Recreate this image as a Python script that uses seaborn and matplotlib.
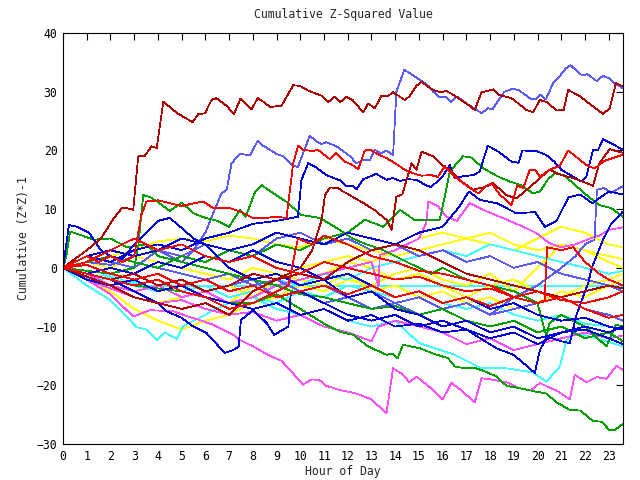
import matplotlib
matplotlib.use("Agg")
import matplotlib.pyplot as plt
import seaborn as sns

# ---------------- data (hour, cumulative value) ----------------
hours = [0, 1, 2, 3, 4, 5, 6, 7, 8, 9, 10, 11, 12, 13, 14, 15, 16, 17, 18, 19, 20, 21, 22, 23, 23.6]

line_a = [(0,0),(0.5,1.5),(1,3),(1.6,5),(2.1,8.2),(2.5,10.3),(2.96,9.9),(3.17,19),(3.45,19.1),(3.73,20.7),(3.95,20.4),
          (4.23,28.3),(4.79,26.4),(5.46,24.8),(5.7,26.2),(5.98,26.3),(6.26,28.6),(6.46,28.9),(6.9,27.6),(7.2,26.2),
          (7.48,28.8),(7.95,27),(8.2,28.9),(8.44,28.3),(8.72,27.4),(9.21,27.6),(9.7,31.1),(9.98,31),(10.33,30.2),
          (10.9,29.3),(11.17,28.2),(11.46,29.2),(11.67,28.2),(11.95,29.1),(12.2,28.6),(12.65,26.5),(12.86,28),
          (13.14,27.2),(13.42,29.3),(13.7,29.3),(13.91,29.9),(14.4,28.6),(14.6,29.2),(14.9,31),(15.1,31.7),(15.5,30.5),
          (15.88,29.9),(16.16,30.1),(16.44,29.5),(17.07,27.8),(17.35,26.9),(17.64,29.9),(18.13,30.4),(18.34,29.5),
          (18.9,28.9),(19.53,26.9),(19.81,26.5),(20.1,28.6),(20.4,28.2),(20.8,26.8),(21.1,26.9),(21.29,30.3),
          (21.8,29.2),(22.3,27.6),(22.76,26.2),(23.04,27.2),(23.3,31.5),(23.6,30.9)]

line_b = [(0,0),(1,1),(2,0.5),(3,2),(4,3),(5,1),(5.5,3),(6,6),(6.33,9.3),(6.68,12.7),(6.9,13.3),(7.1,17.8),(7.45,19.4),
          (7.88,19.2),(8.2,21.6),(8.44,20.8),(9.0,19.4),(9.3,19),(9.7,17.4),(9.9,17.2),(10.4,22.5),(10.69,21.5),
          (10.9,21.1),(11.1,21.4),(11.53,20.7),(12.1,19),(12.37,17.8),(12.65,18.4),(12.94,18.4),(13.14,20.1),
          (13.4,19.5),(13.63,20),(13.91,19.2),(14.05,30),(14.38,33.7),(14.6,33.2),(15.05,32),(15.4,31),(15.6,30),
          (15.9,29),(16.1,29.2),(16.35,28.2),(16.6,29.2),(17.0,28),(17.4,27),(17.65,26.3),(17.9,27.2),(18.1,27),
          (18.6,30),(18.95,30.5),(19.2,30.3),(19.7,28.8),(19.9,28.7),(20.1,29.5),(20.35,28.7),(20.66,31.5),
          (20.9,32.5),(21.2,34),(21.4,34.5),(21.6,33.7),(21.87,32.8),(22.1,33),(22.5,31.8),(22.75,32.7),(23.0,32.3),
          (23.2,31.5),(23.6,30.6)]

line_c = [(0,0),(1,-1),(2,-2),(3,-3),(4,-3.5),(5,-4),(6,-5),(7,-6),(8,-6),(9,-4.5),(10,-7),(11,-9.5),(11.67,-10.9),
          (12.23,-11.4),(12.86,-13.4),(13.63,-14.8),(13.9,-14.6),(14.1,-15.4),(14.33,-13.1),(15.04,-13.7),
          (15.53,-14.5),(16.23,-15.4),(16.51,-16.8),(16.93,-17.1),(17.4,-17.1),(17.7,-17.5),(18.27,-18.5),
          (18.69,-20.1),(19.25,-20.5),(19.95,-21.1),(20.37,-21.4),(20.8,-22.9),(21.36,-24.2),(21.8,-24.3),
          (22.34,-26.1),(22.7,-26.2),(23.04,-27.7),(23.25,-27.6),(23.6,-26.6)]

line_d = [(0,0),(1,-2),(2,-4.5),(2.96,-8.3),(3.66,-7.2),(4.65,-7.4),(5.28,-8.3),(5.77,-8.9),(6.33,-9.7),(7.17,-11.4),
          (7.46,-12.3),(8.02,-13.4),(8.72,-15),(9.2,-15.8),(9.7,-18),(10.12,-19.9),(10.47,-19),(10.8,-19.1),
          (11.1,-20.1),(11.67,-20.8),(12.37,-21.4),(13.0,-22.4),(13.63,-24.8),(13.91,-17.1),(14.33,-18.2),
          (14.6,-19.5),(14.9,-18.5),(15.32,-19.9),(15.6,-20.8),(16.0,-22.4),(16.37,-19.6),(16.7,-20.6),
          (17.35,-22.9),(17.64,-18.8),(18.2,-19.1),(18.7,-19.5),(19.25,-20.5),(19.7,-20.9),(20.1,-19.6),
          (20.4,-20.2),(20.8,-20.9),(21.36,-22.4),(21.57,-18.2),(22.06,-19.5),(22.5,-18.6),(22.9,-18.9),
          (23.32,-16.7),(23.6,-17.4)]

line_e = [(0,0),(0.5,-1),(1,-0.5),(1.5,-2),(2,-1.5),(2.5,-2.5),(3,-2.5),(3.5,-3.1),(4,-3.1),(6,-3.1),(8,-3.1),
          (10,-3.1),(12,-3.1),(14,-3.1),(16,-3.1),(18,-3.1),(20,-3.1),(22,-3.1),(23.6,-3.1)]

line_f = [(0,0),(1,2),(2,1),(3,3),(4,4),(5,3),(6,5),(7,6),(8,7.5),(9,8),(9.9,8.7),(10.05,15),(10.33,17.8),(10.6,17.3),
          (11.1,15.8),(11.67,14.9),(11.95,13.9),(12.2,14),(12.37,13.4),(12.65,15.1),(13.2,16),(13.63,15),(13.9,15.3),
          (14.2,14.8),(14.5,15.1),(14.9,15),(15.32,14),(15.5,13.8),(15.75,14.6),(16.0,15.6),(16.3,17.5),(16.5,15.3),
          (16.86,15.6),(17.3,15.8),(17.56,16.4),(17.9,20.8),(18.34,19.8),(18.9,18.1),(19.2,17.9),(19.36,20),
          (19.7,19.9),(19.95,19.9),(20.37,19.2),(20.7,18.1),(21.0,16.7),(21.43,15.7),(21.85,14.7),(22.06,15.6),
          (22.34,20.1),(22.55,20.1),(22.76,21.9),(23.2,21),(23.6,20.1)]

line_g = [(0,0),(0.5,1),(1,2),(1.5,1),(2,2),(2.5,1),(3.0,2),(3.3,9),(3.52,11.3),(4.0,11.5),(4.5,11),(5.0,10.5),
          (5.5,11),(5.9,11.3),(6.33,10.2),(7.0,10.2),(7.46,9.6),(8.0,8.5),(8.5,8.5),(9.0,8.7),(9.42,8.5),(9.7,17.8),
          (9.91,20.8),(10.12,20.1),(10.5,19.9),(10.75,20.1),(11.25,18.5),(11.5,19.6),(11.88,18.1),(12.2,17.5),
          (12.44,16.8),(12.72,20),(12.95,20.1),(13.3,19.3),(13.63,18.7),(14.12,17.5),(14.4,16.7),(14.76,16.1),
          (15.1,15.7),(15.5,15.8),(15.8,15.5),(16.09,17.3),(16.3,16.4),(16.58,15.3),(17.14,13.6),(17.5,12.7),
          (17.8,13.9),(18.06,14.4),(18.4,12.5),(18.9,10.7),(19.14,14),(19.4,13.6),(19.67,16.7),(19.9,16.7),
          (20.1,15.5),(20.5,16.7),(20.94,17.4),(21.29,20),(22.06,17.5),(22.4,16.9),(22.8,18.2),(23.18,18.7),(23.6,19.3)]

line_h = [(0,0),(1,-1),(2,-2),(3,-1),(4,-3),(5,-2),(6,-4),(7,-3),(8,-1),(9,-2),(10,0),(10.5,3),(10.9,8.2),(11.04,12.4),
          (11.25,13.7),(11.6,13.6),(11.8,13),(11.95,12.7),(12.37,11.7),(12.72,10.9),(13.14,9.8),(13.63,8.2),
          (13.85,6.5),(14.05,12.1),(14.3,12.5),(14.48,15),(14.69,17.8),(14.9,16.7),(15.11,19.8),(15.6,19),
          (16.02,17.3),(16.3,16.8),(16.7,15),(17.28,13.3),(17.8,13.8),(18.13,14.4),(18.69,12.4),(19.1,11.8),
          (19.6,13.5),(20.5,16.7),(21.0,15.8),(21.5,15.3),(21.9,14.7),(22.34,14),(22.6,17.8),(23.04,20.2),(23.6,19.6)]

line_i = [(0,0),(1,-0.5),(2,-1),(3,0),(3.17,3.6),(3.38,12.4),(3.7,12),(4.0,11.2),(4.5,9.7),(4.75,10.4),(5.0,11.1),
          (5.25,10.2),(5.5,9.3),(6,8.5),(6.5,8),(7,7),(7.46,9.9),(7.7,8.7),(8.1,13),(8.37,14.1),(8.86,12.7),
          (9.4,11.3),(10.05,9),(10.83,8.5),(11.53,6.8),(12.2,5),(12.8,4),(13.5,3),(14,2),(14.5,1),(15,0),(15.5,-1),
          (16,0),(17,-2),(18,-3),(19,-4),(20,-6),(20.37,-11.7),(20.5,-9.4),(21,-8),(22,-10),(22.9,-13.4),
          (23.3,-9.7),(23.6,-10)]

line_j = [(0,0),(0.15,2.2),(0.3,6.2),(1.3,4.8),(2,5),(2.7,3.5),(3.5,4),(4,2),(5,1),(6,0),(7,-1),(8,-2),(9,-3),
          (10,-4.5),(11,-5),(12,-6),(13,-7),(14,-6.5),(15,-8),(16,-7),(17,-9),(18,-10),(19,-9),(20,-11),(21,-10),
          (22,-12),(23,-11),(23.6,-12.5)]

line_k = [(0,0),(1,1),(2,2),(3,1),(4,0),(5,2),(6,1),(7,3),(8,2),(9,4),(10,3),(11,5),(12,6),(12.72,8.2),(13.5,7),
          (14.2,9.9),(14.8,8.2),(15.88,8.2),(16.1,12.4),(16.3,16.4),(16.86,19),(17.2,18.8),(17.7,17),(18.3,15.6),
          (18.83,14.7),(19.3,14.1),(19.8,12.7),(20.1,13),(20.44,15.1),(20.72,16.1),(21.1,15.8),(21.5,14.4),
          (22.06,12.4),(22.6,10.7),(23.1,10.2),(23.6,8.7)]

line_l = [(0,0),(1,-1),(2,-2),(3,-1),(4,-3),(5,-2),(6,-4),(7,-3),(8,-2),(9,-5),(10,-4),(11,-6),(12,-5),(13,-7),
          (14,-6),(15,-8),(16,-7),(17,-6),(18,-8),(19,-5),(20,-3),(21,0),(21.6,2),(22.0,4),(22.4,4.8),(22.5,13.3),
          (22.8,13.6),(23.1,12.8),(23.6,13.9)]

line_m = [(0,0),(1,2),(2,3),(3,2),(4,3),(5,5),(6,4),(7,3),(8,4),(9,6),(10,5),(11,4),(12,6),(13,5),(14,4),(15,6),
          (16,7),(16.7,10.4),(17.1,13),(17.56,11.6),(18.3,11),(19.1,9.3),(19.9,9.5),(20.3,7),(20.8,8),(21.3,12),
          (21.8,12.5),(22.3,11),(23,13),(23.6,12.5)]

line_m0 = [(0,0),(0.25,7.3),(0.6,7),(1.1,6),(1.6,3),(2,2),(2.5,1.5),(3,4),(3.5,6),(4,8),(4.5,8.5),(5,6.8),(5.5,5),
           (6,4),(6.5,2),(7,0),(8,-2),(9,-1),(10,-3),(11,-2),(12,-5),(13,-4),(14,-7),(15,-8),(16,-10),(17,-9),
           (18,-11),(19,-10),(20,-12),(21,-11),(22,-10.5),(23,-12),(23.6,-13)]

line_n = [(0,0),(1,-1),(2,-3),(3,-4),(4,-3),(5,-5),(6,-4),(7,-6),(8,-5),(9,-3),(10,-2),(11,-1),(12,0),(13,1),
          (13.3,-3.2),(13.35,2.2),(14,3),(15,5),(15.3,7.6),(15.4,11.3),(15.8,10.5),(16.16,8.7),(16.6,8),(17.14,11),
          (17.7,9.9),(18.7,8.2),(19.4,7),(19.95,5.9),(20.5,4.2),(21,3.5),(21.6,4),(22.2,5),(22.6,5.5),(23.04,6.5),
          (23.6,6.9)]

line_n2 = [(0,0),(1,-2),(2,-3.5),(3,-5),(4,-6),(5,-5.5),(6,-7),(7,-8),(8,-7.5),(9,-9),(10,-8),(11,-10),(12,-11),
           (13,-12.5),(13.3,-10),(14,-9),(15,-10),(16,-11),(17,-13),(18,-12),(19,-14),(20,-13),(21,-12),(22,-11),
           (23,-12),(23.6,-11.5)]

line_p = [(0,0),(1,-1),(2,-2),(3,-4),(4,-6),(4.37,-7.4),(5,-8.5),(5.49,-10),(6.05,-11.1),(6.82,-14.5),(7.17,-14),
          (7.4,-13.4),(7.5,-8.9),(8.02,-7.2),(8.58,-9.4),(8.9,-11.4),(9.5,-10),(9.6,-4.3),(10,-4),(11,-6),(12,-8),
          (13,-9),(14,-8),(15,-10),(16,-9),(17,-10.5),(18,-12),(19,-11),(20,-13),(21,-11),(22,-10),(23,-11),(23.6,-10)]

line_q = [(0,0),(1,-2),(2,-3),(3,-2),(4,-4),(5,-3),(6,-5),(7,-6),(8,-7),(9,-6),(10,-8),(11,-7),(12,-9),(13,-8),
          (14,-10),(15,-9.5),(16,-11),(17,-10.5),(17.7,-12.3),(18.27,-13.7),(18.97,-14.8),(19.4,-16.2),(19.88,-17.9),
          (20.1,-14),(20.4,-11.7),(21.0,-12.5),(21.36,-12.8),(21.64,-8),(22.13,-2.6),(22.3,0.2),(22.76,4.8),
          (23.1,7.5),(23.6,9.6)]

line_r2 = [(0,0),(1,1),(2,3),(3,5),(3.5,4),(4,3),(5,4),(6,2),(7,1),(8,2),(9,0),(10,-1),(11,1),(12,0),(13,-1),
           (14,-2),(15,-1.5),(16,-3),(17,-4),(18,-3.5),(19,-5),(20,-4),(21,-5.5),(22,-6),(23,-5),(23.6,-4)]

line_r3 = [(0,0),(1,0.5),(2,-1),(3,-2),(4,-1),(5,-3),(6,-2),(7,-4),(8,-3),(9,-5),(10,-4),(11,-3),(12,-4.5),(13,-3),
           (14,-5),(15,-4),(16,-6),(17,-5),(18,-6.5),(19,-5),(20,-6),(20.3,-5.5),(20.4,3.5),(21,3),(21.5,3.5),
           (22,1),(22.6,-1),(23,-2),(23.6,-3)]

line_r4 = [(0,0),(1,-1),(2,-2),(3,-3),(4,-2),(5,-4),(6,-5),(7,-7),(8,-6),(9,-4),(9.5,-3),(9.9,5),(10.5,4),(11,5.5),
           (12,4),(13,2),(14,1),(15,-0.5),(16,-1),(17,-2),(18,-3),(19,-5),(20,-6),(21,-5),(22,-7),(23,-8.5),(23.6,-8)]

# hourly bundle series (values at `hours`)
dkred_r5 = [0, -1.5, -3, -5, -6, -7, -6, -8, -4, -2, -1, -2, 1, 3, 4, 3, 1, -1, -2, -3, -4, -5, -4, -3, -3.5]
ltblue_b2 = [0, 1, 2, 1, 0, -1, -2, -1, -3, -2, -4, -3, -5, -4, -6, -5, -7, -6, -8, -7, -6, -5, -7, -8, -9]
ltblue_b3 = [0, 2, 1, 0, 3, 2, 4, 3, 2, 5, 6, 4, 5, 3, 4, 2, 3, 1, 2, 0, 1, -1, -2, -3, -4]
blue_b4 = [0, -1, 0, -1, 1, 0, 2, 1, 3, 1, 0, -2, -1, -3, -5, -4, -6, -5, -7, -6, -8, -9, -8.5, -10, -10.5]
cyan_c2 = [0, -1, -2, -3, -2, -4, -3, -5, -4, -2, -3, -1, -2, 0, 1, 2, 3, 2, 4, 3, 2, 1, 0, -1, -0.5]
yellow_y1 = [0, 1, 2, 3, 4.5, 5, 4.5, 5.5, 5, 4, 3.5, 5, 4, 3, 2, 3, 4, 5, 4, 3, 5, 7, 6, 4, 3.5]
yellow_y2 = [0, -1, -2, -4, -3, -5, -4, -6, -3, -2, 0, 1, 2, 1, 3, 5, 6, 5, 6, 4, 3, 4, 3, 2, 1.5]
yellow_y3 = [0, -2, -4, -7, -9, -10.5, -9, -8, -6, -5, -3, -4, -2, -3, -1, 0, -2, -3, -1, -4, 0, 4, 3, 1, 0]
yellow_y4 = [0, 1, 0, 2, 1, 0, -1, -2, 0, -1, -2, -3, -1, -4, -3, -5, -4, -6, -5, -7, -6, -4, -5, -3, -2]
yellow_y5 = [0, -1, -3, -5, -6, -5, -4, -3, -5, -2, -3, -1, 1, 0, -2, -1, -3, -5, -3, -2, -4, -5, -3, -2, -1]

line_c1 = [(0,0),(1,-3),(2,-5.5),(3.1,-10.1),(3.5,-10.5),(3.95,-12.3),(4.3,-11),(4.79,-12.1),(5.07,-9.9),(5.5,-9),
           (6,-8),(6.33,-7.2),(7,-6),(8,-5),(9,-6),(10,-4),(11,-5),(12,-3),(13,-4),(14,-5),(15,-4),(16,-6),(17,-7),
           (18,-6),(19,-8),(20,-9),(21,-8),(22,-9.5),(23,-10),(23.6,-10.5)]
line_c3 = [(0,0),(1,-2),(2,-1),(3,-3),(4,-4),(5,-3),(6,-5),(7,-6),(8,-5),(9,-7),(10,-8),(11,-7),(12,-9),(13,-10),
           (14,-9),(15,-12.8),(16.5,-14.8),(17.64,-17.1),(18.5,-17),(19.8,-17.8),(20.37,-19.4),(20.94,-16.8),
           (21.2,-12.5),(21.5,-11.1),(22,-11.5),(22.76,-12.3),(23.6,-13.4)]

title = "Cumulative Z-Squared Value"
x_label = "Hour of Day"
y_label = "Cumulative (Z*Z)-1"

# ---------------- styling ----------------
RED, DKRED, GREEN, BLUE = "#ff0000", "#b00000", "#00a000", "#0000e0"
LTBLUE, MAGENTA, CYAN, YELLOW = "#5a5aff", "#ff50ff", "#40ffff", "#ffff00"

sns.set_style("white")
plt.rcParams["font.family"] = ["DejaVu Sans Mono"]
plt.rcParams["lines.antialiased"] = False
FS = 8.3

fig = plt.figure(figsize=(6.4, 4.8), dpi=100)
ax = fig.add_axes([63 / 640, 1 - 444 / 480, 560 / 640, 411 / 480])

pair_series = [
    (line_e, CYAN, 2.0),
    (yellow_y1, YELLOW, 1), (yellow_y2, YELLOW, 1), (yellow_y3, YELLOW, 1), (yellow_y4, YELLOW, 1), (yellow_y5, YELLOW, 1),
    (cyan_c2, CYAN, 1), (line_c1, CYAN, 1), (line_c3, CYAN, 1),
    (line_n, MAGENTA, 1), (line_n2, MAGENTA, 1), (line_d, MAGENTA, 1),
    (ltblue_b2, LTBLUE, 1), (ltblue_b3, LTBLUE, 1), (line_l, LTBLUE, 1), (line_b, LTBLUE, 1),
    (line_c, GREEN, 1), (line_i, GREEN, 1), (line_j, GREEN, 1), (line_k, GREEN, 1),
    (blue_b4, BLUE, 1), (line_m, BLUE, 1), (line_m0, BLUE, 1), (line_p, BLUE, 1), (line_q, BLUE, 1), (line_f, BLUE, 1),
    (dkred_r5, DKRED, 1), (line_h, DKRED, 1), (line_a, DKRED, 1),
    (line_r2, RED, 1), (line_r3, RED, 1), (line_r4, RED, 1), (line_g, RED, 1),
]

for data, color, lw in pair_series:
    if isinstance(data[0], tuple):
        xs = [p[0] for p in data]
        ys = [p[1] for p in data]
    else:
        xs, ys = hours, data
    sns.lineplot(x=xs, y=ys, color=color, linewidth=0.55 * lw, estimator=None, sort=False, ax=ax, legend=False)

ax.set_xlim(0, 23.6)
ax.set_ylim(-30, 40)
ax.set_xticks(range(0, 24))
ax.set_yticks(range(-30, 41, 10))
ax.tick_params(direction="in", length=5, width=0.8, top=True, right=True, labelsize=FS, colors="black", pad=4)
ax.tick_params(axis="y", right=True, labelright=False)
ax.tick_params(axis="x", top=True, labeltop=False)
for s in ax.spines.values():
    s.set_visible(True)
    s.set_color("black")
    s.set_linewidth(0.8)

ax.set_title(title, fontsize=FS, pad=11)
ax.set_xlabel(x_label, fontsize=FS, labelpad=1.5)
ax.set_ylabel(y_label, fontsize=FS, labelpad=5)
ax.grid(False)

fig.savefig("out.png", dpi=100)
